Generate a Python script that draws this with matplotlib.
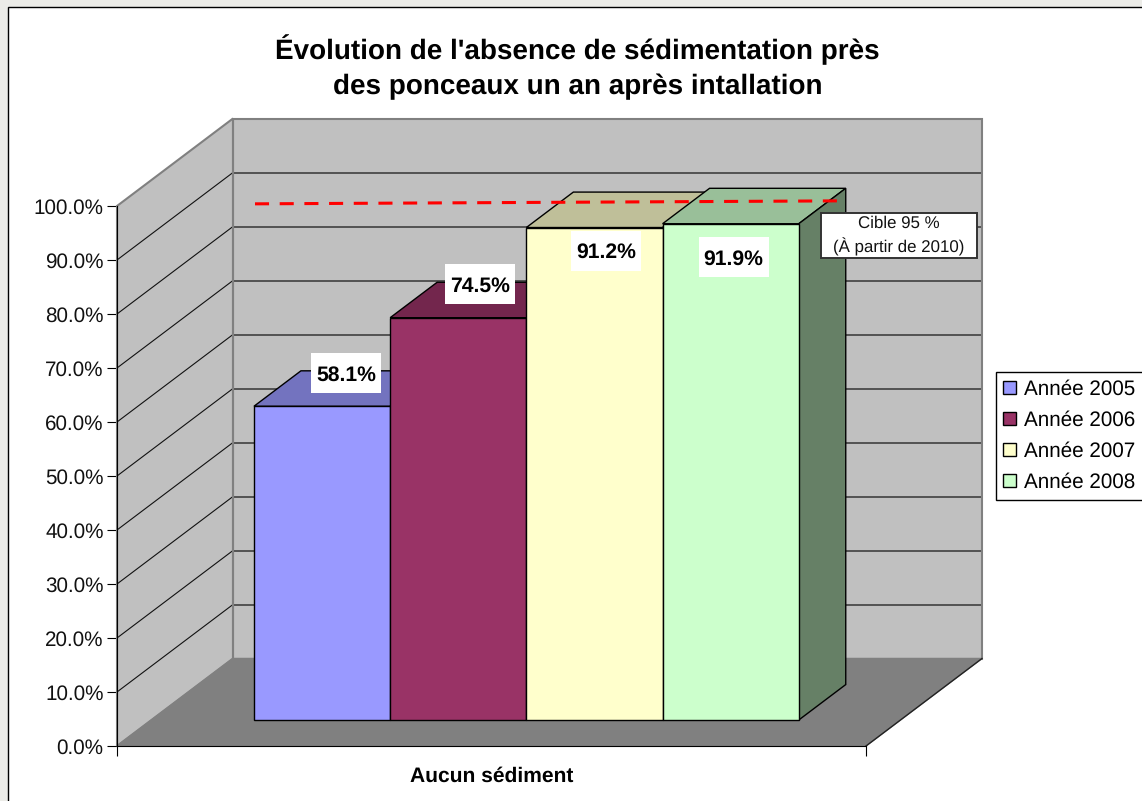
import matplotlib
matplotlib.use('Agg')
import matplotlib.pyplot as plt
from matplotlib.patches import Polygon, Rectangle

plt.rcParams['font.family'] = ['Liberation Sans', 'DejaVu Sans']
plt.rcParams['text.hinting'] = 'none'

# data
years = ['Année 2005', 'Année 2006', 'Année 2007', 'Année 2008']
values = [58.1, 74.5, 91.2, 91.9]
value_labels = ['58.1%', '74.5%', '91.2%', '91.9%']
front_colors = ['#9999FF', '#993366', '#FFFFCC', '#CCFFCC']
top_colors = ['#7373BF', '#73264D', '#BFBF99', '#99BF99']
side_colors = ['#4D4D80', '#4D1A33', '#808066', '#668066']
y_ticks = [0, 10, 20, 30, 40, 50, 60, 70, 80, 90, 100]
y_tick_labels = ['0.0%', '10.0%', '20.0%', '30.0%', '40.0%', '50.0%', '60.0%', '70.0%', '80.0%', '90.0%', '100.0%']
category = 'Aucun sédiment'
title = "Évolution de l'absence de sédimentation près\ndes ponceaux un an après intallation"
target_note = 'Cible 95 %\n(À partir de 2010)'

W, H = 1142, 801
PX_X = 1 / 749   # one pixel in x data units
PX_Y = 1 / 5.4   # one pixel in y data units
BAR_W = 136.2 * PX_X
BAR_START = 102.5 * PX_X
D0 = 26 / 87.5   # depth of bar front
D1 = D0 + 0.405  # depth of bar back


# oblique projection of the 3d box
def proj(x, y, d):
    return (x + d * 116 * PX_X, y + d * 87.5 * PX_Y)


def face(ax, pts, **kw):
    ax.add_patch(Polygon([proj(*p) for p in pts], closed=True, clip_on=False, **kw))


fig = plt.figure(figsize=(W / 100, H / 100), dpi=100, facecolor='#ECECE8')
fig.add_artist(Rectangle((8 / W, -0.1), 1.1, (801 - 7) / H + 0.1, transform=fig.transFigure,
                         facecolor='white', edgecolor='black', linewidth=1.0, zorder=-1))
ax = fig.add_axes([117 / W, (H - 746) / H, 749 / W, 540 / H])
ax.patch.set_visible(False)
ax.set_xlim(0, 1)
ax.set_ylim(0, 100)

# walls and floor
back_wall = [(0, 0, 1), (1, 0, 1), (1, 100, 1), (0, 100, 1)]
side_wall = [(0, 0, 0), (0, 0, 1), (0, 100, 1), (0, 100, 0)]
face(ax, back_wall, facecolor='#C0C0C0', edgecolor='none', zorder=1)
face(ax, side_wall, facecolor='#C0C0C0', edgecolor='none', zorder=1)
face(ax, [(0, 0, 0), (1, 0, 0), (1, 0, 1), (0, 0, 1)], facecolor='#808080', edgecolor='#808080', linewidth=1, zorder=1.5)

# gridlines
for t in y_ticks[1:-1]:
    x0, y0 = proj(0, t, 0)
    x1, y1 = proj(0, t, 1)
    x2, y2 = proj(1, t, 1)
    ax.plot([x0, x1], [y0, y1], color='#111111', lw=0.8, clip_on=False, zorder=2)
    ax.plot([x1, x2], [y1, y2], color='#404040', lw=1.2, clip_on=False, zorder=2)
face(ax, back_wall, fill=False, edgecolor='#808080', linewidth=1.5, zorder=2.5)
face(ax, side_wall, fill=False, edgecolor='#808080', linewidth=1.5, zorder=2.5)
x0, y0 = proj(1, 0, 0)
x1, y1 = proj(1, 0, 1)
ax.plot([x0, x1], [y0, y1], color='#222222', lw=1.0, clip_on=False, zorder=2.6)

# bars
base = proj(0, 0, D0)
for i, v in enumerate(values):
    left = BAR_START + i * BAR_W
    right = left + BAR_W
    z = 3 + i * 0.1
    ax.bar(base[0] + left, v, width=BAR_W, bottom=base[1], align='edge', color=front_colors[i],
           edgecolor='black', linewidth=1.0, label=years[i], clip_on=False, zorder=z + 0.02)
    face(ax, [(left, v, D0), (right, v, D0), (right, v, D1), (left, v, D1)],
         facecolor=top_colors[i], edgecolor='black', linewidth=1.0, zorder=z)
    face(ax, [(right, 0, D0), (right, v, D0), (right, v, D1), (right, 0, D1)],
         facecolor=side_colors[i], edgecolor='black', linewidth=1.0, zorder=z)

# data labels, moved by hand from each bar's top centre (pixels)
label_dx = [24, 22, 12, 3]
label_dy = [33, 34, -23, -33]
for i, v in enumerate(values):
    cx = base[0] + BAR_START + (i + 0.5) * BAR_W + label_dx[i] * PX_X
    cy = base[1] + v + label_dy[i] * PX_Y
    ax.add_patch(Rectangle((cx - 35 * PX_X, cy - 20 * PX_Y), 70 * PX_X, 40 * PX_Y, facecolor='white',
                           edgecolor='none', clip_on=False, zorder=5))
    ax.text(cx, cy, value_labels[i], ha='center', va='center_baseline', fontsize=15.2, fontweight='bold',
            color='black', zorder=6)

# target line and its note
ax.plot([138 * PX_X, 721 * PX_X], [100.4, 100.95], color='#FF0000', lw=2.2, linestyle=(0, (4.6, 3.48)),
        dash_capstyle='butt', clip_on=False, zorder=7)
ax.text(782 * PX_X, 94.5, target_note, ha='center', va='center', fontsize=12.2, color='#111111', linespacing=1.38,
        zorder=7)
ax.add_patch(Rectangle((704 * PX_X, 90.4), 156 * PX_X, 45 * PX_Y, facecolor='white', edgecolor='#333333',
                       linewidth=1.4, clip_on=False, zorder=6.5))

# axes
for s in ['top', 'right']:
    ax.spines[s].set_visible(False)
ax.spines['left'].set_zorder(8)
ax.spines['bottom'].set_zorder(8)
ax.set_yticks(y_ticks)
ax.set_yticklabels(y_tick_labels, fontsize=14.9, color='#111111', va='center_baseline')
ax.set_xticks([0, 1])
ax.set_xticklabels(['', ''])
ax.tick_params(axis='y', length=7.2, width=0.8, pad=2.5)
ax.tick_params(axis='x', length=7.2, width=0.8)
ax.set_xlabel(category, fontsize=15.1, fontweight='bold', labelpad=4)

fig.text(577.5 / W, 1 - 67 / H, title, ha='center', va='center', fontsize=20.1, fontweight='bold', linespacing=1.42)

ax.legend(loc='center left', bbox_to_anchor=(996 / W, 1 - 436 / H), bbox_transform=fig.transFigure, borderaxespad=0,
          fontsize=14.9, fancybox=False, framealpha=1, edgecolor='black', handlelength=0.62, handleheight=0.62,
          handletextpad=0.38, labelspacing=0.55, borderpad=0.36)

fig.savefig('out.png', dpi=100, facecolor=fig.get_facecolor())
